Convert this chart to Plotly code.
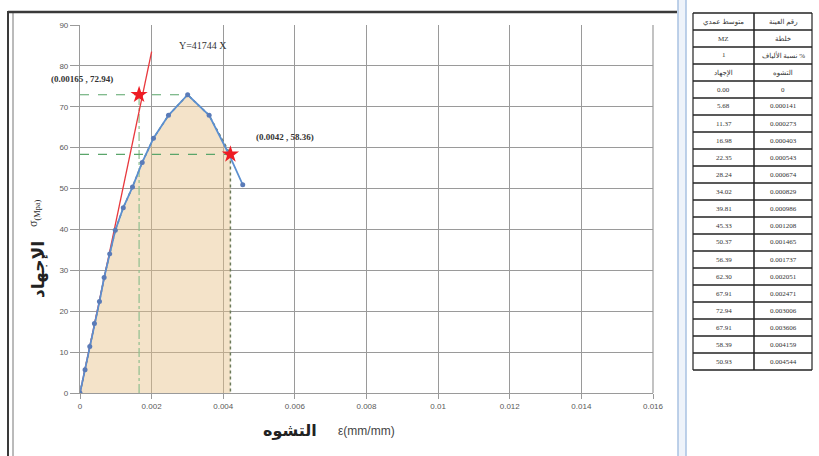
import plotly.graph_objects as go

# ---------------- data ----------------
strain = [0, 0.000141, 0.000273, 0.000403, 0.000543, 0.000674, 0.000829, 0.000986,
          0.001208, 0.001465, 0.001737, 0.002051, 0.002471, 0.003006, 0.003606,
          0.004159, 0.004544]
stress = [0.00, 5.68, 11.37, 16.98, 22.35, 28.24, 34.02, 39.81, 45.33, 50.37,
          56.39, 62.30, 67.91, 72.94, 67.91, 58.39, 50.93]

slope = 41744
slope_x = [0, 0.002]
peak_pt = (0.00165, 72.94)
fail_pt = (0.0042, 58.36)
peak_strain = 0.003006

x_ticks = [0, 0.002, 0.004, 0.006, 0.008, 0.01, 0.012, 0.014, 0.016]
x_tick_text = ["0", "0.002", "0.004", "0.006", "0.008", "0.01", "0.012", "0.014", "0.016"]
y_ticks = [0, 10, 20, 30, 40, 50, 60, 70, 80, 90]

header_rows = [("متوسط عمدي", "رقم العينة"),
               ("MZ", "خلطة"),
               ("1", "نسبة الألياف %"),
               ("الإجهاد", "التشوه")]

# ---------------- layout geometry (pixels) ----------------
W, H = 819, 456
PL, PR, PT, PB = 80, 653, 25, 393


def px(x):
    return (x - PL) / (PR - PL)


def py(y):
    return (PB - y) / (PB - PT)


def ann(x, y, text, size, family, color="#333", angle=0):
    return dict(x=px(x), y=py(y), xref="paper", yref="paper", text=text,
                showarrow=False, xanchor="center", yanchor="middle", textangle=angle,
                font=dict(family=family, size=size, color=color))


fig = go.Figure()

# fill under curve up to failure point
n_fill = sum(1 for s in strain if s <= fail_pt[0]) - 1
fill_x = strain[:n_fill] + [fail_pt[0], fail_pt[0]]
fill_y = stress[:n_fill] + [fail_pt[1], 0]
fig.add_trace(go.Scatter(x=fill_x, y=fill_y, mode="lines", fill="toself",
                         fillcolor="rgba(230,192,135,0.45)",
                         line=dict(color="#6b7b5a", width=1.5, dash="dot"),
                         hoverinfo="skip", showlegend=False))

# guide lines
fig.add_trace(go.Scatter(x=[0, peak_strain], y=[peak_pt[1], peak_pt[1]], mode="lines",
                         line=dict(color="#5aa56a", width=1.2, dash="dash"), showlegend=False))
fig.add_trace(go.Scatter(x=[peak_pt[0], peak_pt[0]], y=[0, peak_pt[1]], mode="lines",
                         line=dict(color="#8fbf8f", width=1.2, dash="dashdot"), showlegend=False))
fig.add_trace(go.Scatter(x=[0, fail_pt[0]], y=[fail_pt[1], fail_pt[1]], mode="lines",
                         line=dict(color="#5aa56a", width=1.2, dash="dash"), showlegend=False))

# elastic slope line
fig.add_trace(go.Scatter(x=slope_x, y=[slope * v for v in slope_x], mode="lines",
                         line=dict(color="#e8383d", width=1.3), showlegend=False))

# stress-strain curve
fig.add_trace(go.Scatter(x=strain, y=stress, mode="lines+markers",
                         line=dict(color="#5b8fd0", width=1.8),
                         marker=dict(symbol="circle", size=5, color="#5a7bb8"),
                         showlegend=False))

# red stars
fig.add_trace(go.Scatter(x=[peak_pt[0], fail_pt[0]], y=[peak_pt[1], fail_pt[1]], mode="markers",
                         marker=dict(symbol="star", size=13, color="#ee1c24"),
                         showlegend=False))

annotations = [
    ann(203, 46, "Y=41744 X", 10, "Liberation Serif"),
    ann(82, 79, "<b>(%s , %s)</b>" % (peak_pt[0], peak_pt[1]), 9, "Liberation Serif"),
    ann(285, 137, "<b>(%s , %s)</b>" % (fail_pt[0], fail_pt[1]), 9, "Liberation Serif"),
    ann(290, 431, "<b>التشوه</b>", 16, "DejaVu Serif, DejaVu Sans", "#222"),
    ann(366, 431, "ε(mm/mm)", 12, "Liberation Sans", "#444"),
    ann(38, 270, "<b>الإجهاد</b>", 17, "DejaVu Serif, DejaVu Sans", "#222", -90),
    ann(34, 213, "σ<sub>(Mpa)</sub>", 12, "Liberation Serif", "#333", -90),
]

shapes = []
# outer chart frame
shapes.append(dict(type="line", xref="paper", yref="paper", x0=px(8), x1=px(8),
                   y0=py(11), y1=py(H), line=dict(color="#3a3a3a", width=2)))
shapes.append(dict(type="line", xref="paper", yref="paper", x0=px(13), x1=px(13),
                   y0=py(13), y1=py(H), line=dict(color="#777", width=1)))
shapes.append(dict(type="line", xref="paper", yref="paper", x0=px(8), x1=px(677),
                   y0=py(12), y1=py(12), line=dict(color="#3a3a3a", width=2.5)))
# light blue separator
shapes.append(dict(type="rect", xref="paper", yref="paper", x0=px(678), x1=px(686),
                   y0=py(0), y1=py(H), fillcolor="#eef3fa",
                   line=dict(width=0)))
for xx in (678, 686):
    shapes.append(dict(type="line", xref="paper", yref="paper", x0=px(xx), x1=px(xx),
                       y0=py(0), y1=py(H), line=dict(color="#a9c2e2", width=1.5)))

# table
TL, TM, TR, TT, RH = 693, 754, 812, 13, 17
rows = [(a, b) for a, b in header_rows]
for s, e in zip(stress, strain):
    rows.append(("%.2f" % s, "0" if e == 0 else "%.6f" % e))
nrows = len(rows)
TB = TT + RH * nrows
for i in range(nrows + 1):
    yy = TT + RH * i
    shapes.append(dict(type="line", xref="paper", yref="paper", x0=px(TL), x1=px(TR),
                       y0=py(yy), y1=py(yy), line=dict(color="#222", width=1.5)))
for xx in (TL, TM, TR):
    shapes.append(dict(type="line", xref="paper", yref="paper", x0=px(xx), x1=px(xx),
                       y0=py(TT), y1=py(TB), line=dict(color="#222", width=1.5 if xx == TM else 1.2)))
for i, (a, b) in enumerate(rows):
    yc = TT + RH * i + RH / 2
    annotations.append(ann((TL + TM) / 2, yc, a, 7, "Liberation Serif, DejaVu Sans"))
    annotations.append(ann((TM + TR) / 2, yc, b, 7, "Liberation Serif, DejaVu Sans"))

fig.update_layout(
    width=W, height=H,
    margin=dict(l=PL, r=W - PR, t=PT, b=H - PB),
    paper_bgcolor="white", plot_bgcolor="white",
    shapes=shapes, annotations=annotations,
    xaxis=dict(range=[0, 0.016], tickvals=x_ticks, ticktext=x_tick_text,
               showgrid=True, gridcolor="#9a9a9a", gridwidth=1.2,
               showline=True, linecolor="#9a9a9a", linewidth=1.2,
               ticks="outside", ticklen=5, tickcolor="#9a9a9a", zeroline=False,
               tickfont=dict(family="Liberation Sans", size=8, color="#595959")),
    yaxis=dict(range=[0, 90], tickvals=y_ticks,
               showgrid=True, gridcolor="#9a9a9a", gridwidth=1.2,
               showline=True, linecolor="#9a9a9a", linewidth=1.2,
               ticks="outside", ticklen=9, tickcolor="#9a9a9a", zeroline=False,
               tickfont=dict(family="Liberation Sans", size=8, color="#595959")),
)
fig.add_shape(type="line", xref="paper", yref="paper", x0=1, x1=1, y0=0, y1=1,
              line=dict(color="#9a9a9a", width=1.2))

fig.write_html("out.html", config={"displayModeBar": False},
               post_script="document.body.style.margin='0';document.body.style.overflow='hidden';")
